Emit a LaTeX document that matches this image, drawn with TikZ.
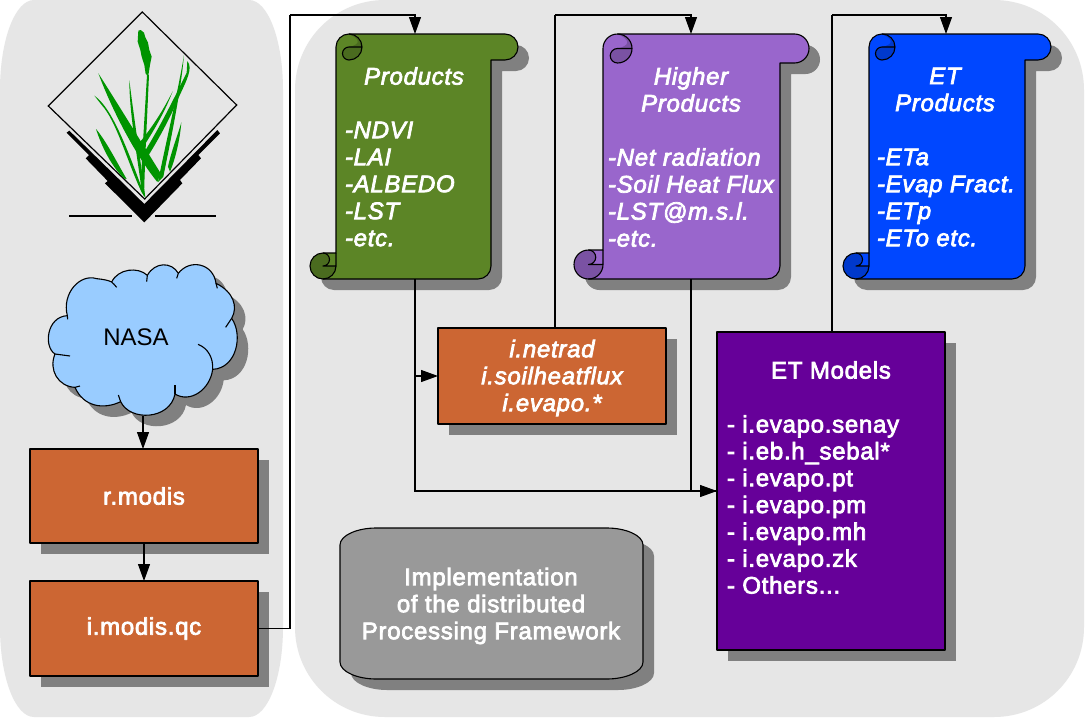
\documentclass[tikz,border=0pt]{standalone}
\usepackage{fontspec}
\setmainfont{Liberation Sans}
\newfontfamily\labfont[FakeBold=3,LetterSpace=3]{Liberation Sans}
\usetikzlibrary{arrows.meta,shadows}
\definecolor{panelgray}{HTML}{E6E6E6}
\definecolor{shgray}{HTML}{808080}
\definecolor{boxorange}{HTML}{CC6633}
\definecolor{scgreen}{HTML}{5C8526}
\definecolor{scgreend}{HTML}{4A6B1F}
\definecolor{scpurple}{HTML}{9966CC}
\definecolor{scpurpled}{HTML}{7A52A3}
\definecolor{scblue}{HTML}{0047FF}
\definecolor{scblued}{HTML}{0039CC}
\definecolor{etpurple}{HTML}{660099}
\definecolor{implgray}{HTML}{999999}
\definecolor{cloudblue}{HTML}{99CCFF}
\definecolor{grassgreen}{HTML}{009400}
\newcommand{\scrollpath}[4]{(#1,34+#4) arc[start angle=180,end angle=90,radius=#4 pt] -- (#3-#4,34) arc[start angle=90,end angle=-90,radius=#4 pt] -- (#2,34+2*#4) -- (#2,279-13) arc[start angle=0,end angle=-90,radius=13pt] -- (#1-#4,279) arc[start angle=-90,end angle=-270,radius=#4 pt] -- (#1,279-2*#4) -- cycle}
\newcommand{\scrollfig}[6]{%
  \fill[shgray,shift={(11,11)}] \scrollpath{#1}{#2}{#3}{#4};
  \fill[#5] \scrollpath{#1}{#2}{#3}{#4};
  \fill[#6] (#1+#4,34+2*#4) arc[start angle=-90,end angle=90,radius=#4 pt] .. controls (#1+1.9*#4,34+0.4*#4) and (#1+1.9*#4,34+0.8*#4) .. (#1+#4,34+#4) arc[start angle=90,end angle=270,radius=#4/2 pt] -- cycle;
  \fill[#6] (#1+#4,34+2*#4) arc[start angle=-90,end angle=0,radius=#4 pt] -- (#1+#4,34+#4) arc[start angle=90,end angle=270,radius=#4/2 pt] -- cycle;
  \fill[#6] (#1-#4,279-2*#4) arc[start angle=90,end angle=270,radius=#4 pt] arc[start angle=-90,end angle=0,radius=#4 pt] -- (#1-#4,279-#4) arc[start angle=-90,end angle=90,radius=#4/2 pt] -- cycle;
  \draw[shapeline] \scrollpath{#1}{#2}{#3}{#4};
  \draw[shapeline] (#1+#4,34) arc[start angle=90,end angle=-90,radius=#4 pt] arc[start angle=-90,end angle=-270,radius=#4/2 pt] -- (#1+2*#4,34+#4);
  \draw[shapeline] (#1-#4,279-2*#4) arc[start angle=90,end angle=-90,radius=#4/2 pt] -- (#1,279-#4) -- (#1,279-2*#4);
  \draw[shapeline] (#1,279-#4) arc[start angle=0,end angle=-90,radius=#4 pt];
}
\newcommand{\cloudoutline}{(112,197) .. controls (95,130) and (150,70) .. (200,86) .. controls (222,88) and (238,92) .. (245,96)
  .. controls (265,55) and (325,50) .. (352,76) .. controls (375,35) and (425,35) .. (445,70)
  .. controls (480,25) and (550,40) .. (558,100) .. controls (610,125) and (625,170) .. (605,205)
  .. controls (640,255) and (620,355) .. (548,358) .. controls (540,420) and (480,460) .. (435,432)
  .. controls (420,510) and (300,515) .. (272,455) .. controls (220,480) and (160,470) .. (135,412)
  .. controls (85,410) and (55,360) .. (75,312) .. controls (40,290) and (50,200) .. (112,197) -- cycle}
\tikzset{
  shapeline/.style={draw=black,line width=1.1pt,line join=round},
  link/.style={draw=black,line width=1.1pt},
  arr/.style={link,-{Triangle[length=17pt,width=12pt]}},
  panel/.style={fill=panelgray},
  holder/.style={inner sep=0pt,outer sep=0pt,draw=none,fill=none},
  procbox/.style={shapeline,fill=boxorange,text=white,inner sep=0pt,outer sep=0pt,align=center,
    general shadow={shadow xshift=11pt,shadow yshift=-11pt,fill=shgray},
    font=\labfont\fontsize{24}{27}\selectfont},
  whitetext/.style={text=white,inner sep=0pt,outer sep=0pt,font=\labfont\fontsize{24}{27}\selectfont},
  ittext/.style={whitetext,font=\labfont\fontsize{24}{27}\selectfont\itshape},
  blade/.style={fill=grassgreen,draw=none},
}
\begin{document}
\begin{tikzpicture}[x=1pt,y=-1pt]
\useasboundingbox (0,0) rectangle (1085,718);
\fill[white] (0,0) rectangle (1085,718);
% panels
\fill[panel] (0,90) .. controls (0,40) and (15,0) .. (34,0) -- (249,0) .. controls (268,0) and (283,40) .. (283,90) -- (283,627) .. controls (283,677) and (268,717) .. (249,717) -- (34,717) .. controls (15,717) and (0,677) .. (0,627) -- cycle;
\fill[panel] (295,90) .. controls (295,40) and (335,0) .. (385,0) -- (994,0) .. controls (1044,0) and (1084,40) .. (1084,90) -- (1084,627) .. controls (1084,677) and (1044,717) .. (994,717) -- (385,717) .. controls (335,717) and (295,677) .. (295,627) -- cycle;
% logo
\begin{scope}[shift={(30,0)},x=1/3*1pt,y=-1/3*1pt]
\fill[black] (110,398) -- (118,392) -- (343,612) -- (562,390) -- (570,400) -- (505,465) -- (513,475) -- (450,540) -- (457,550) -- (343,667) -- (225,550) -- (233,543) -- (167,475) -- (177,465) -- cycle;
\draw[line width=1.2pt,fill=panelgray,line join=miter] (337,36) -- (620,315) -- (344,597) -- (55,318) -- cycle;
\fill[black] (117,646) rectangle (305,651);
\fill[black] (375,646) rectangle (557,651);
\fill[blade] (205,220) .. controls (250,290) and (330,420) .. (392,520) -- (382,546) .. controls (320,470) and (250,340) .. (205,220) -- cycle;
\fill[blade] (298,240) .. controls (310,340) and (330,470) .. (346,592) -- (336,578) .. controls (322,470) and (298,340) .. (298,240) -- cycle;
\fill[blade] (193,287) .. controls (250,325) and (300,470) .. (346,592) -- (334,575) .. controls (290,480) and (260,365) .. (215,315) -- cycle;
\fill[blade] (198,387) .. controls (230,425) and (262,490) .. (290,537) -- (282,535) .. controls (245,500) and (215,440) .. (198,387) -- cycle;
\fill[blade] (357,225) .. controls (352,340) and (345,470) .. (342,590) -- (332,560) .. controls (337,450) and (345,330) .. (351,225) -- cycle;
\fill[blade] (428,274) .. controls (405,335) and (370,395) .. (335,448) -- (325,432) .. controls (365,385) and (400,330) .. (428,274) -- cycle;
\fill[blade] (472,183) .. controls (490,205) and (470,240) .. (445,295) .. controls (420,355) and (380,430) .. (340,490) -- (334,470) .. controls (380,400) and (430,300) .. (470,218) -- cycle;
\fill[blade] (462,165) .. controls (452,280) and (420,430) .. (400,530) -- (384,546) .. controls (405,440) and (445,270) .. (462,165) -- cycle;
\fill[blade] (454,367) .. controls (450,420) and (435,480) .. (420,515) -- (414,500) .. controls (425,450) and (445,400) .. (454,367) -- cycle;
\fill[blade] (325,92) -- (332,90) -- (342,98) -- (346,112) -- (354,128) -- (358,150) -- (365,170) -- (360,195) -- (355,227) -- (347,222) -- (343,195) -- (335,170) -- (331,150) -- (323,125) -- cycle;
\end{scope}
% cloud
\begin{scope}[shift={(41,261)},x=1/3*1pt,y=-1/3*1pt]
\fill[shgray] \cloudoutline;
\end{scope}
\begin{scope}[shift={(30,250)},x=1/3*1pt,y=-1/3*1pt]
\draw[shapeline,fill=cloudblue] \cloudoutline;
\draw[shapeline] (245,96) .. controls (250,100) and (255,106) .. (260,112);
\draw[shapeline] (352,76) -- (350,95);
\draw[shapeline] (445,70) -- (440,85);
\draw[shapeline] (558,100) -- (562,115);
\draw[shapeline] (605,205) -- (587,232);
\draw[shapeline] (504,283) .. controls (535,295) and (550,325) .. (548,358);
\draw[shapeline] (435,432) -- (435,405);
\draw[shapeline] (272,455) -- (265,435);
\draw[shapeline] (135,412) -- (150,408);
\draw[shapeline] (75,312) -- (120,318);
\draw[shapeline] (112,197) -- (113,208);
\end{scope}
\node[holder,minimum width=193pt,minimum height=151pt] (cloud) at (143,340) {};
\node[inner sep=0pt,font=\fontsize{24}{27}\selectfont] (nasa) at (136,337) {NASA};
% scrolls
\scrollfig{336}{491}{518}{13}{scgreen}{scgreend}
\scrollfig{603}{780}{809}{14.5}{scpurple}{scpurpled}
\scrollfig{869}{1025}{1051}{13}{scblue}{scblued}
\node[holder,minimum width=208pt,minimum height=245pt] (products) at (415,156.5) {};
\node[holder,minimum width=234pt,minimum height=245pt] (higher) at (691,156.5) {};
\node[holder,minimum width=208pt,minimum height=245pt] (etprod) at (946,156.5) {};
\node[ittext] (ptitle) at (414,76) {Products};
\node[ittext,anchor=west,align=left] (plist) at (345,184) {-NDVI\\-LAI\\-ALBEDO\\-LST\\-etc.};
\node[ittext,align=center] (htitle) at (691,89.5) {Higher\\Products};
\node[ittext,anchor=west,align=left] (hlist) at (608,197.5) {-Net radiation\\-Soil Heat Flux\\-LST@m.s.l.\\-etc.};
\node[ittext,align=center] (etitle) at (945,89.5) {ET\\Products};
\node[ittext,anchor=west,align=left] (elist) at (877,197.5) {-ETa\\-Evap Fract.\\-ETp\\-ETo etc.};
% boxes
\node[procbox,minimum width=228pt,minimum height=94pt] (rmodis) at (144,496) {\raisebox{-1pt}{r.modis}};
\node[procbox,minimum width=228pt,minimum height=95pt] (qc) at (144,628.5) {\raisebox{-1pt}{i.modis.qc}};
\node[procbox,minimum width=228pt,minimum height=96pt] (netrad) at (552,376) {};
\node[whitetext,font=\labfont\fontsize{24}{27}\selectfont\itshape,align=center] (nettext) at (552,378) {i.netrad\\i.soilheatflux\\i.evapo.*};
\node[procbox,fill=etpurple,minimum width=228pt,minimum height=318pt] (etmodels) at (831,491) {};
\node[whitetext] (ettitle) at (831,370) {ET Models};
\node[whitetext,anchor=west,align=left,font=\labfont\fontsize{24}{26.85}\selectfont] (etlist) at (727,504.5) {- i.evapo.senay\\- i.eb.h\_sebal*\\- i.evapo.pt\\- i.evapo.pm\\- i.evapo.mh\\- i.evapo.zk\\- Others...};
% implementation
\fill[shgray,shift={(11,11)}] (340,545) .. controls (340,535) and (358,528) .. (376,528) -- (607,528) .. controls (625,528) and (643,535) .. (643,545) -- (643,662) .. controls (643,672) and (625,679) .. (607,679) -- (376,679) .. controls (358,679) and (340,672) .. (340,662) -- cycle;
\draw[shapeline,fill=implgray] (340,545) .. controls (340,535) and (358,528) .. (376,528) -- (607,528) .. controls (625,528) and (643,535) .. (643,545) -- (643,662) .. controls (643,672) and (625,679) .. (607,679) -- (376,679) .. controls (358,679) and (340,672) .. (340,662) -- cycle;
\node[holder,minimum width=303pt,minimum height=151pt] (impl) at (491.5,603.5) {};
\node[whitetext,align=center] (impltext) at (491,606) {Implementation\\of the distributed\\Processing Framework};
% connectors
\coordinate (r1) at (290,15);
\coordinate (r2) at (555,15);
\coordinate (r3) at (832,15);
\coordinate (nettop) at (555,328);
\coordinate (ettop) at (832,332);
\draw[arr] (cloud.south) -- (cloud.south |- rmodis.north);
\draw[arr] (rmodis.south) -- (qc.north);
\draw[link] (qc.east) -| (r1);
\draw[arr] (r1) -| (products.north);
\draw[arr] (products.south) |- (etmodels.west);
\draw[arr] (products.south |- netrad.west) -- (netrad.west);
\draw[link] (higher.south) |- (etmodels.west);
\draw[link] (nettop) -- (r2);
\draw[arr] (r2) -| (higher.north);
\draw[link] (ettop) -- (r3);
\draw[arr] (r3) -| (etprod.north);
\end{tikzpicture}
\end{document}
